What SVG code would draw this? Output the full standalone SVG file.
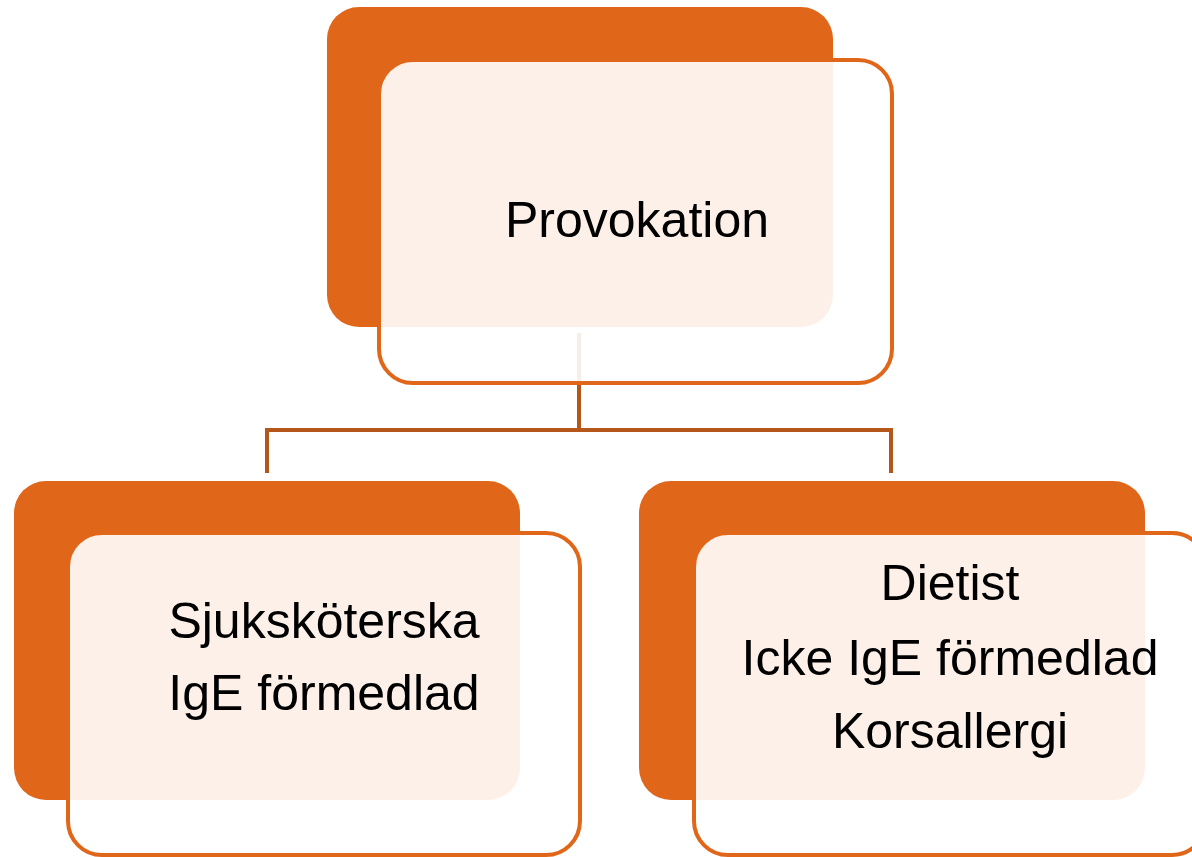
<svg xmlns="http://www.w3.org/2000/svg" width="1192" height="857" viewBox="0 0 1192 857">
<style>
.back{fill:#E0661A;}
.front{fill:#FFFFFF;fill-opacity:0.9;stroke:#E0661A;stroke-width:4;}
.conn{fill:none;stroke:#B5561B;stroke-width:4;stroke-linejoin:miter;}
.lbl{font-family:"Liberation Sans",Arial,sans-serif;font-size:50px;fill:#000;text-anchor:middle;}
</style>
<rect width="1192" height="857" fill="#FFFFFF"/>
<g id="connectors">
<path class="conn" d="M579,333 V430"/>
<path class="conn" d="M267,473 V430 H891 V473"/>
</g>
<g id="node-provokation">
<rect class="back" x="327" y="7" width="506" height="320" rx="32"/>
<rect class="front" x="379" y="60" width="513" height="323" rx="34"/>
<text class="lbl" x="637" y="237">Provokation</text>
</g>
<g id="node-sjukskoterska">
<rect class="back" x="14" y="481" width="506" height="319" rx="32"/>
<rect class="front" x="68" y="533" width="512" height="322" rx="34"/>
<text class="lbl" x="324" y="638">Sjuksköterska</text>
<text class="lbl" x="324" y="710">IgE förmedlad</text>
</g>
<g id="node-dietist">
<rect class="back" x="639" y="481" width="506" height="319" rx="32"/>
<rect class="front" x="694" y="533" width="512" height="322" rx="34"/>
<text class="lbl" x="950" y="600">Dietist</text>
<text class="lbl" x="950" y="675">Icke IgE förmedlad</text>
<text class="lbl" x="950" y="748">Korsallergi</text>
</g>
</svg>
